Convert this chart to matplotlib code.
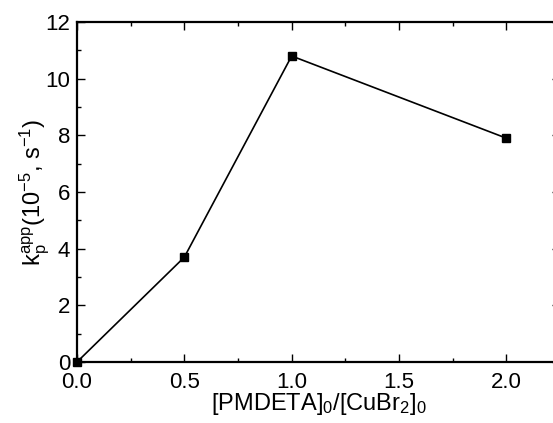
import matplotlib
matplotlib.use("Agg")
import matplotlib.pyplot as plt
import matplotlib.transforms as mtransforms
from matplotlib.ticker import MultipleLocator

plt.rcParams['font.family'] = ['Liberation Sans', 'DejaVu Sans']
plt.rcParams['mathtext.default'] = 'regular'

ratio = [0.0, 0.5, 1.0, 2.0]
kp = [0.0, 3.7, 10.8, 7.9]

fig = plt.figure(figsize=(5.53, 4.23), dpi=100)
ax = fig.add_axes([77/553, 61/423, (560-77)/553, (362-22)/423])
ax.plot(ratio, kp, color='black', lw=1.2, marker='s', ms=6, mfc='black', mec='black', clip_on=False, zorder=3)
ax.set_xlim(0, 2.25)
ax.set_ylim(0, 12)
ax.xaxis.set_major_locator(MultipleLocator(0.5))
ax.xaxis.set_minor_locator(MultipleLocator(0.25))
ax.yaxis.set_major_locator(MultipleLocator(2))
ax.yaxis.set_minor_locator(MultipleLocator(1))
ax.xaxis.set_major_formatter(matplotlib.ticker.FormatStrFormatter('%.1f'))
ax.tick_params(which='both', direction='in', top=True, right=True, labelsize=16, width=1.0)
ax.tick_params(axis='x', pad=7)
ax.tick_params(axis='y', pad=5)
ax.tick_params(which='major', length=6)
ax.tick_params(which='minor', length=3)
for s in ax.spines.values():
    s.set_linewidth(1.6)
ax.set_xlabel(r'[PMDETA]$_0$/[CuBr$_2$]$_0$', fontsize=17, labelpad=-1)
ax.set_ylabel(r'k$_p^{app}$(10$^{-5}$, s$^{-1}$)', fontsize=17, labelpad=-5)

fig.canvas.draw()
t0 = ax.yaxis.get_major_ticks()[0].label1
t0.set_transform(t0.get_transform() + mtransforms.ScaledTranslation(0, 3/72, fig.dpi_scale_trans))
fig.savefig('out.png', dpi=100)
